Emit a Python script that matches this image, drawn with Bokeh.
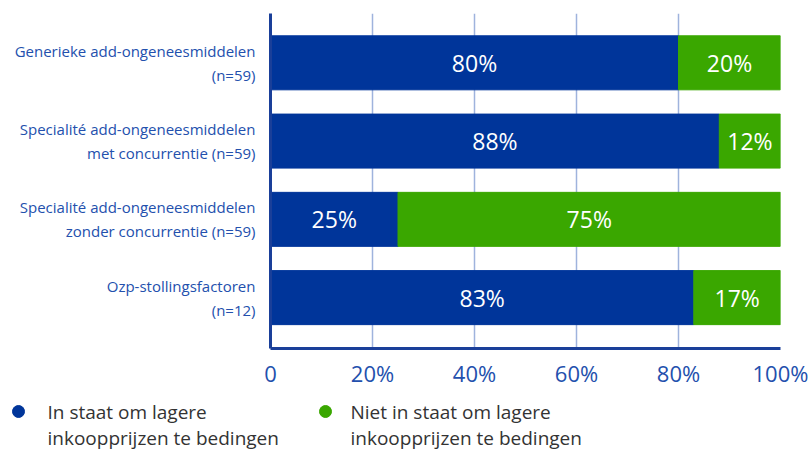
from bokeh.plotting import figure
from bokeh.models import Range1d, FixedTicker, ColumnDataSource
from bokeh.layouts import column
from bokeh.core.properties import value
from bokeh.embed import file_html
from bokeh.resources import INLINE

categories = [
    "Generieke add-ongeneesmiddelen\n(n=59)",
    "Specialité add-ongeneesmiddelen\nmet concurrentie (n=59)",
    "Specialité add-ongeneesmiddelen\nzonder concurrentie (n=59)",
    "Ozp-stollingsfactoren\n(n=12)",
]
in_staat = [80, 88, 25, 83]
niet_in_staat = [20, 12, 75, 17]
x_ticks = [0, 20, 40, 60, 80, 100]
x_tick_labels = ["0", "20%", "40%", "60%", "80%", "100%"]
legend_labels = ["In staat om lagere\ninkoopprijzen te bedingen",
                 "Niet in staat om lagere\ninkoopprijzen te bedingen"]

BLUE = "#00359a"
GREEN = "#3aa700"
TXT_BLUE = "#2350ad"
FONT = "Open Sans"

n = len(categories)
ypos = [n - 1 - i for i in range(n)]

p = figure(width=810, height=390, output_backend="svg", toolbar_location=None,
           x_range=Range1d(0, 100), y_range=Range1d(-0.65, 3.63),
           min_border_left=270, min_border_right=30, min_border_top=13, min_border_bottom=36)
p.outline_line_color = None
p.frame_align = False

src = ColumnDataSource(dict(
    y=ypos, a=in_staat, b=niet_in_staat,
    b_left=in_staat, b_right=[a + b for a, b in zip(in_staat, niet_in_staat)],
    a_mid=[a / 2 for a in in_staat],
    b_mid=[a + b / 2 for a, b in zip(in_staat, niet_in_staat)],
    a_txt=[f"{a}%" for a in in_staat],
    b_txt=[f"{b}%" for b in niet_in_staat],
))

p.hbar(y="y", left=0, right="a", height=0.69, color=BLUE, source=src)
p.hbar(y="y", left="b_left", right="b_right", height=0.69, color=GREEN, source=src)

p.text(x="a_mid", y="y", text="a_txt", source=src, text_color="white",
       text_font=value(FONT), text_font_size="23px", text_align="center", text_baseline="middle")
p.text(x="b_mid", y="y", text="b_txt", source=src, text_color="white",
       text_font=value(FONT), text_font_size="23px", text_align="center", text_baseline="middle")

# x axis
p.xaxis.ticker = FixedTicker(ticks=x_ticks)
p.xaxis.major_label_overrides = {t: l for t, l in zip(x_ticks, x_tick_labels)}
p.xaxis.axis_line_color = "#1a3f99"
p.xaxis.axis_line_width = 3
p.xaxis.major_tick_line_color = None
p.xaxis.minor_tick_line_color = None
p.xaxis.major_label_text_font = FONT
p.xaxis.major_label_text_font_size = "22px"
p.xaxis.major_label_text_color = TXT_BLUE
p.xaxis.major_label_standoff = 3

# y axis
p.yaxis.ticker = FixedTicker(ticks=ypos)
p.yaxis.major_label_overrides = {y: c for y, c in zip(ypos, categories)}
p.yaxis.axis_line_color = "#1a3f99"
p.yaxis.axis_line_width = 3
p.yaxis.major_tick_line_color = None
p.yaxis.minor_tick_line_color = None
p.yaxis.major_label_text_font = FONT
p.yaxis.major_label_text_font_size = "15px"
p.yaxis.major_label_text_color = TXT_BLUE
p.yaxis.major_label_standoff = 9
p.yaxis.major_label_text_align = "right"

p.xgrid.ticker = FixedTicker(ticks=x_ticks[1:])
p.xgrid.grid_line_color = "#9fb3dd"
p.xgrid.grid_line_width = 1.5
p.ygrid.grid_line_color = None

# legend as a separate strip below
leg = figure(width=810, height=59, output_backend="svg", toolbar_location=None,
             x_range=Range1d(0, 810), y_range=Range1d(59, 0),
             min_border_left=0, min_border_right=0, min_border_top=0, min_border_bottom=0)
leg.frame_align = False
leg.axis.visible = False
leg.grid.visible = False
leg.outline_line_color = None

leg_colors = [BLUE, GREEN]
leg_cx = [18, 325]
leg_tx = [47, 350]
leg.scatter(x=leg_cx, y=[21, 21], color=leg_colors, size=12)
line1 = [lab.split("\n")[0] for lab in legend_labels]
line2 = [lab.split("\n")[1] for lab in legend_labels]
leg.text(x=leg_tx, y=[21, 21], text=line1, text_color="#333333",
         text_font=value(FONT), text_font_size="19px", text_align="left", text_baseline="middle")
leg.text(x=leg_tx, y=[47, 47], text=line2, text_color="#333333",
         text_font=value(FONT), text_font_size="19px", text_align="left", text_baseline="middle")

open("out.html", "w").write(file_html(column(p, leg, spacing=0), INLINE))
